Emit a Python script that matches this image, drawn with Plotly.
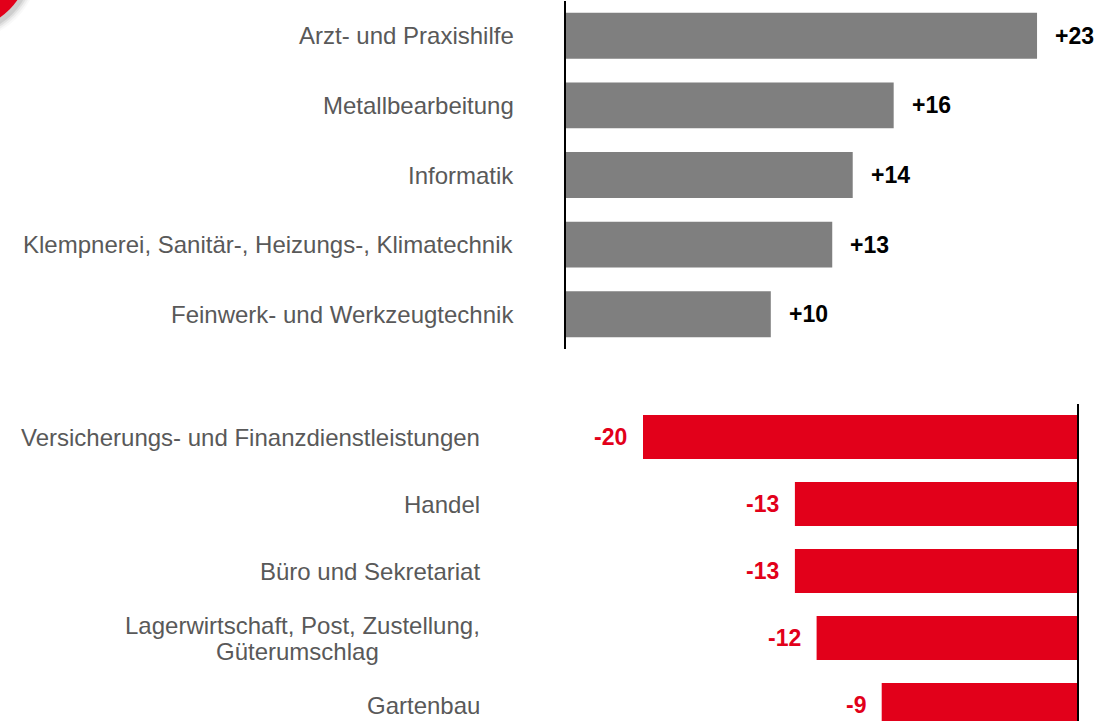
import plotly.graph_objects as go

W, H = 1112, 721

top_categories = [
    "Arzt- und Praxishilfe",
    "Metallbearbeitung",
    "Informatik",
    "Klempnerei, Sanitär-, Heizungs-, Klimatechnik",
    "Feinwerk- und Werkzeugtechnik",
]
top_values = [23, 16, 14, 13, 10]
top_value_labels = ["+23", "+16", "+14", "+13", "+10"]

bottom_categories = [
    "Versicherungs- und Finanzdienstleistungen",
    "Handel",
    "Büro und Sekretariat",
    "Lagerwirtschaft, Post, Zustellung,<br>Güterumschlag",
    "Gartenbau",
]
bottom_values = [-20, -13, -13, -12, -9]
bottom_value_labels = ["-20", "-13", "-13", "-12", "-9"]

GREY = "#7f7f7f"
RED = "#e2001a"
LABEL = "#595959"
FONT = "Liberation Sans, Arial, sans-serif"

def px_x(p):
    return p / W

def px_y(p):
    return 1 - p / H

fig = go.Figure()

fig.add_trace(go.Bar(
    x=top_values, y=top_categories, orientation="h",
    marker=dict(color=GREY, line=dict(width=0)),
    width=0.66, xaxis="x", yaxis="y", hoverinfo="skip",
))
fig.add_trace(go.Bar(
    x=bottom_values, y=bottom_categories, orientation="h",
    marker=dict(color=RED, line=dict(width=0)),
    width=0.66, xaxis="x2", yaxis="y2", hoverinfo="skip",
))

# top panel geometry
top_zero = 566
top_scale = 20.48
top_domain = [px_x(top_zero), 1.0]
top_range = [0, (W - top_zero) / top_scale]

# bottom panel geometry
bot_zero = 1077
bot_scale = 21.7
bot_left = 500
bot_domain = [px_x(bot_left), px_x(bot_zero)]
bot_range = [-(bot_zero - bot_left) / bot_scale, 0]

bot_top_px = 403.5
bot_step = 67.0
bot_bottom_idx = (H - bot_top_px) / bot_step - 0.5

annotations = []
for c, v, t in zip(top_categories, top_values, top_value_labels):
    annotations.append(dict(
        x=v, y=c, xref="x", yref="y", text="<b>%s</b>" % t, showarrow=False,
        xanchor="left", xshift=16, font=dict(family=FONT, size=23, color="#000000"),
    ))
    annotations.append(dict(
        x=px_x(516), y=c, xref="paper", yref="y", text=c, showarrow=False,
        xanchor="right", align="right", font=dict(family=FONT, size=24, color=LABEL),
    ))
for c, v, t in zip(bottom_categories, bottom_values, bottom_value_labels):
    annotations.append(dict(
        x=v, y=c, xref="x2", yref="y2", text="<b>%s</b>" % t, showarrow=False,
        xanchor="right", xshift=-14, font=dict(family=FONT, size=23, color=RED),
    ))
    lines = c.split("<br>")
    if len(lines) == 1:
        annotations.append(dict(
            x=px_x(482), y=c, xref="paper", yref="y2", text=c, showarrow=False,
            xanchor="right", align="right", font=dict(family=FONT, size=24, color=LABEL),
        ))
    else:
        # two-line label: block right-aligned, lines centred, tight line spacing
        annotations.append(dict(
            x=px_x(482), y=c, xref="paper", yref="y2", text=lines[0], showarrow=False,
            xanchor="right", yshift=13, font=dict(family=FONT, size=24, color=LABEL),
        ))
        annotations.append(dict(
            x=px_x(297), y=c, xref="paper", yref="y2", text=lines[1], showarrow=False,
            xanchor="center", yshift=-13, font=dict(family=FONT, size=24, color=LABEL),
        ))

# decorative red circle in top-left corner with soft shadow
shapes = []
cx, cy, r = -40, -40, 70
for dr, op in [(7, 0.025), (5, 0.04), (3, 0.06), (1, 0.08)]:
    shapes.append(dict(
        type="circle", xref="paper", yref="paper",
        x0=px_x(cx + 2 - r - dr), x1=px_x(cx + 2 + r + dr),
        y0=px_y(cy + 4 + r + dr), y1=px_y(cy + 4 - r - dr),
        fillcolor="rgba(0,0,0,%s)" % op, line=dict(width=0), layer="above",
    ))
shapes.append(dict(
    type="circle", xref="paper", yref="paper",
    x0=px_x(cx - r), x1=px_x(cx + r), y0=px_y(cy + r), y1=px_y(cy - r),
    fillcolor=RED, line=dict(width=0), layer="above",
))

fig.update_layout(
    width=W, height=H, autosize=False,
    margin=dict(l=0, r=0, t=0, b=0, pad=0),
    paper_bgcolor="white", plot_bgcolor="white",
    showlegend=False, bargap=0.34,
    xaxis=dict(domain=top_domain, range=top_range, anchor="y", visible=False, fixedrange=True),
    yaxis=dict(domain=[px_y(349), px_y(1)], range=[4.5, -0.5], anchor="x",
               showticklabels=False, ticks="", showgrid=False, zeroline=False,
               showline=True, linecolor="#000000", linewidth=2, fixedrange=True,
               categoryorder="array", categoryarray=top_categories),
    xaxis2=dict(domain=bot_domain, range=bot_range, anchor="y2", visible=False, fixedrange=True),
    yaxis2=dict(domain=[0, px_y(bot_top_px)], range=[bot_bottom_idx, -0.5], anchor="x2",
                side="right", showticklabels=False, ticks="", showgrid=False, zeroline=False,
                showline=True, linecolor="#000000", linewidth=2, fixedrange=True,
                categoryorder="array", categoryarray=bottom_categories),
    annotations=annotations,
    shapes=shapes,
)

fig.write_html(
    "out.html",
    config={"displayModeBar": False},
    post_script="document.body.style.margin='0';document.body.style.overflow='hidden';",
)
